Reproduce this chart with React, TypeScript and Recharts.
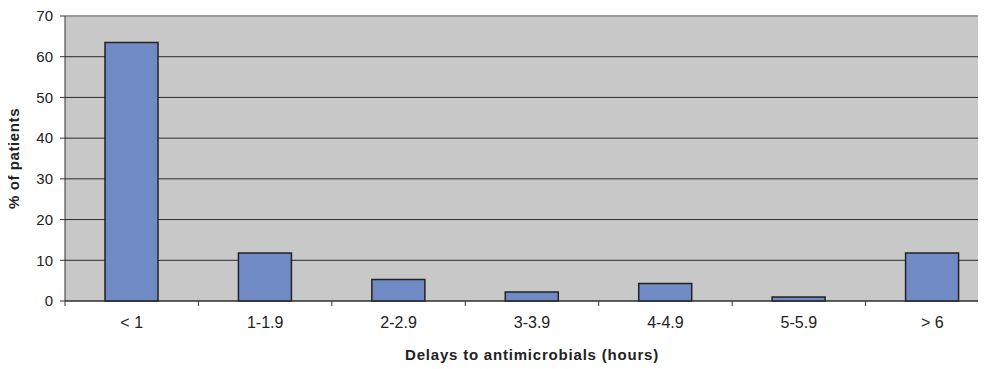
import React from 'react';
import { BarChart, Bar, XAxis, YAxis, CartesianGrid, ReferenceLine } from 'recharts';

const categories = ['< 1', '1-1.9', '2-2.9', '3-3.9', '4-4.9', '5-5.9', '> 6'];
const percentPatients = [63.5, 11.8, 5.3, 2.2, 4.3, 1.0, 11.8];
const yTicks = [0, 10, 20, 30, 40, 50, 60, 70];

const data = categories.map((c, i) => ({ name: c, value: percentPatients[i] }));

const CHART_W = 1000;
const CHART_H = 369;
const Y_W = 65;
const MARGIN_R = 1;
const STEP = (CHART_W - Y_W - MARGIN_R) / categories.length;

// category label plus a tick mark on the left boundary of each band
const XTick = (props: any) => {
  const { x, y, payload } = props;
  const left = x - STEP / 2;
  return (
    <g>
      <line x1={left} y1={y - 8} x2={left} y2={y - 3} stroke="#333" strokeWidth={1} />
      <text x={x} y={y + 19} textAnchor="middle" fontSize={16} fill="#222">
        {payload.value}
      </text>
    </g>
  );
};

export default function App() {
  return (
    <div style={{ width: 986, height: 369, overflow: 'hidden', margin: '-8px 0 0 -8px', fontFamily: 'Arial, "Liberation Sans", sans-serif' }}>
      <BarChart
        width={CHART_W}
        height={CHART_H}
        data={data}
        margin={{ top: 16, right: MARGIN_R, left: 0, bottom: 0 }}
        barCategoryGap="30%"
      >
        <CartesianGrid vertical={false} stroke="#2a2a2a" fill="#c8c8c8" />
        <ReferenceLine y={70} stroke="#9a9a9a" strokeWidth={2} />
        <XAxis
          dataKey="name"
          height={68}
          axisLine={{ stroke: '#333' }}
          tickLine={false}
          tick={<XTick />}
          interval={0}
          label={{ value: 'Delays to antimicrobials (hours)', position: 'insideBottom', offset: 9, fontSize: 15, fontWeight: 'bold', fill: '#222', letterSpacing: 0.8 }}
        />
        <YAxis
          width={Y_W}
          domain={[0, 70]}
          ticks={yTicks}
          interval={0}
          axisLine={{ stroke: '#333' }}
          tickLine={{ stroke: '#333' }}
          tickSize={5}
          tick={{ fontSize: 15, fill: '#222' }}
          tickMargin={7}
          label={{ value: '% of patients', angle: -90, position: 'insideLeft', offset: 14, fontSize: 15, fontWeight: 'bold', fill: '#222', letterSpacing: 0.6, style: { textAnchor: 'middle' } }}
        />
        <Bar dataKey="value" fill="#6f8ac4" stroke="#222" strokeWidth={1.5} barSize={53} isAnimationActive={false} />
      </BarChart>
    </div>
  );
}
